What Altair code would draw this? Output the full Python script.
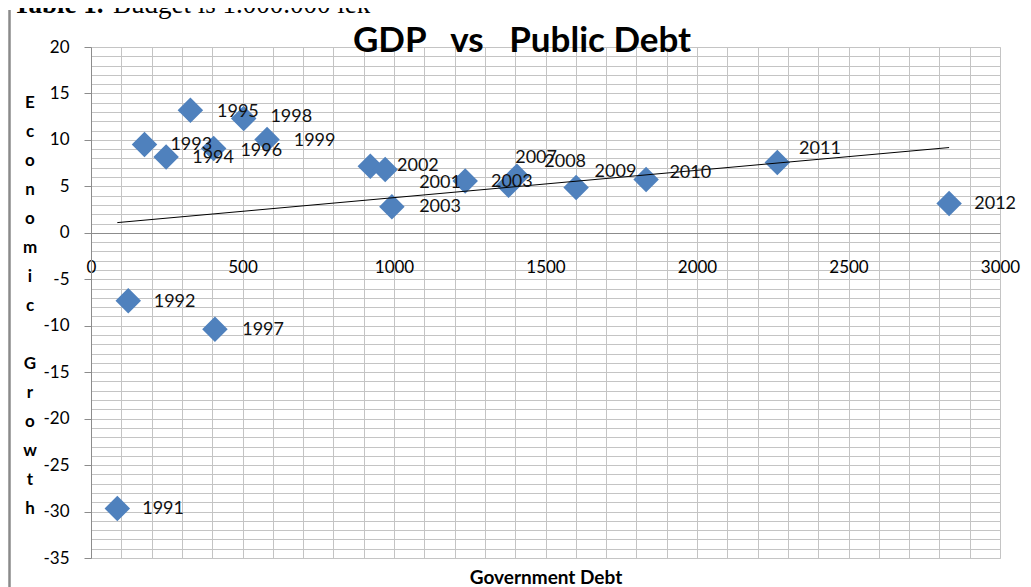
import altair as alt
import pandas as pd

# ---- data ----
debt = [86.8, 123, 176.5, 248, 328, 405, 409, 504, 581, 921.8, 971, 993,
        1235, 1378, 1405.6, 1601, 1832, 2265, 2832]
growth = [-29.66, -7.31, 9.5, 8.17, 13.19, 9.07, -10.39, 12.3, 10.04, 7.17,
          6.82, 2.80, 5.59, 5.13, 6.1, 4.88, 5.74, 7.57, 3.16]
years = ["1991", "1992", "1993", "1994", "1995", "1996", "1997", "1998",
         "1999", "2001", "2002", "2003", "2003", "2007", "2008", "2009",
         "2010", "2011", "2012"]
# where each year label sits (data units)
label_debt = [169, 207, 262, 334, 416, 493, 499, 592, 669, 1083, 1010, 1083,
              1320, 1400, 1496, 1662, 1909, 2337, 2915]
label_growth = [-29.74, -7.42, 9.5, 8.06, 13.0, 8.82, -10.46, 12.47, 9.89,
                5.31, 7.17, 2.73, 5.42, 8.0, 7.63, 6.56, 6.49, 9.0, 3.09]

x_grid = list(range(0, 3001, 100))
y_grid = list(range(-35, 21))
NB = "\u00a0"
y_title_words = ["Economic", "Growth"]
title_text = "GDP" + NB * 3 + "vs" + NB * 3 + "Public Debt"

FONT = "Lato"
GRID = "#c4c4c4"
AXIS = "#8c8c8c"
BLUE = "#4F81BD"

pts = pd.DataFrame({"debt": debt, "growth": growth, "year": years})
labs = pd.DataFrame({"debt": label_debt, "growth": label_growth, "year": years})

xscale = alt.Scale(domain=[0, 3000], nice=False, zero=False)
yscale = alt.Scale(domain=[-35, 20], nice=False, zero=False)

x_axis = alt.Axis(
    values=x_grid, grid=True, gridColor=GRID, gridWidth=1,
    labelExpr="datum.value % 500 === 0 ? '' + datum.value : ''",
    ticks=False, tickSize=0, offset=-325, labelPadding=34,
    labelBaseline="middle", labelFont=FONT, labelFontSize=17,
    labelColor="#000", labelFlush=False, labelOverlap=False,
    domainColor=AXIS, domainWidth=1,
    title="Government Debt", titleFont=FONT, titleFontSize=19,
    titleFontWeight="bold", titleColor="#000", titleY=350,
    titleBaseline="alphabetic",
)
y_axis = alt.Axis(
    values=y_grid, grid=True, gridColor=GRID, gridWidth=1,
    labelExpr="datum.value % 5 === 0 ? '' + datum.value : ''",
    tickSize=7, tickColor=AXIS,
    tickOpacity={"condition": {"test": "datum.value % 5 === 0", "value": 1}, "value": 0},
    labelPadding=15, labelFont=FONT, labelFontSize=17, labelColor="#000",
    labelOverlap=False, domainColor=AXIS, domainWidth=1,
    title="",
)

X = alt.X("debt:Q", scale=xscale, axis=x_axis)
Y = alt.Y("growth:Q", scale=yscale, axis=y_axis)

points = alt.Chart(pts).mark_point(
    shape="diamond", filled=True, size=650, color=BLUE, opacity=1
).encode(x=X, y=Y)

trend = alt.Chart(pts).transform_regression(
    "debt", "growth", method="linear"
).mark_line(color="#000", strokeWidth=1).encode(x=X, y=Y)

labels = alt.Chart(labs).mark_text(
    align="left", baseline="middle", font=FONT, fontSize=18, color="#111"
).encode(x=X, y=Y, text="year:N")

title = alt.Chart(pd.DataFrame({"t": [title_text]})).mark_text(
    align="center", baseline="alphabetic", font=FONT, fontSize=35,
    fontWeight="bold", color="#000"
).encode(x=alt.value(431), y=alt.value(4.5), text="t:N")

# vertical, letter-stacked y-axis title (one letter per line)
ytitle_word1 = alt.Chart(pd.DataFrame({"t": ["\n".join(y_title_words[0])]})).mark_text(
    align="center", baseline="alphabetic", font=FONT, fontSize=17,
    fontWeight="bold", color="#000", lineBreak="\n", lineHeight=29
).encode(x=alt.value(-61), y=alt.value(61), text="t:N")

ytitle_word2 = alt.Chart(pd.DataFrame({"t": ["\n".join(y_title_words[1])]})).mark_text(
    align="center", baseline="alphabetic", font=FONT, fontSize=17,
    fontWeight="bold", color="#000", lineBreak="\n", lineHeight=29
).encode(x=alt.value(-61), y=alt.value(61 + 9 * 29), text="t:N")

header_bold = alt.Chart(pd.DataFrame({"t": ["Table 1."]})).mark_text(
    align="left", baseline="alphabetic", font="Liberation Serif",
    fontSize=27, fontWeight="bold", color="#000"
).encode(x=alt.value(-78), y=alt.value(-34), text="t:N")

header_reg = alt.Chart(pd.DataFrame({"t": ["Budget is 1.000.000 lek"]})).mark_text(
    align="left", baseline="alphabetic", font="Liberation Serif",
    fontSize=27, color="#000"
).encode(x=alt.value(22), y=alt.value(-34), text="t:N")

border = alt.Chart(pd.DataFrame({"a": [0]})).mark_rule(
    color="#8a8a8a", strokeWidth=2.5
).encode(x=alt.value(-81.5), y=alt.value(-37), y2=alt.value(545))

chart = alt.layer(
    points, trend, labels, title, ytitle_word1, ytitle_word2,
    header_bold, header_reg, border
).properties(
    width=909, height=511,
    autosize=alt.AutoSizeParams(type="none"),
    padding={"left": 83, "top": 39, "right": 23, "bottom": 29},
).configure_view(stroke=None).configure(background="white")

chart.save("out.html", embed_options={"renderer": "svg", "actions": False})
